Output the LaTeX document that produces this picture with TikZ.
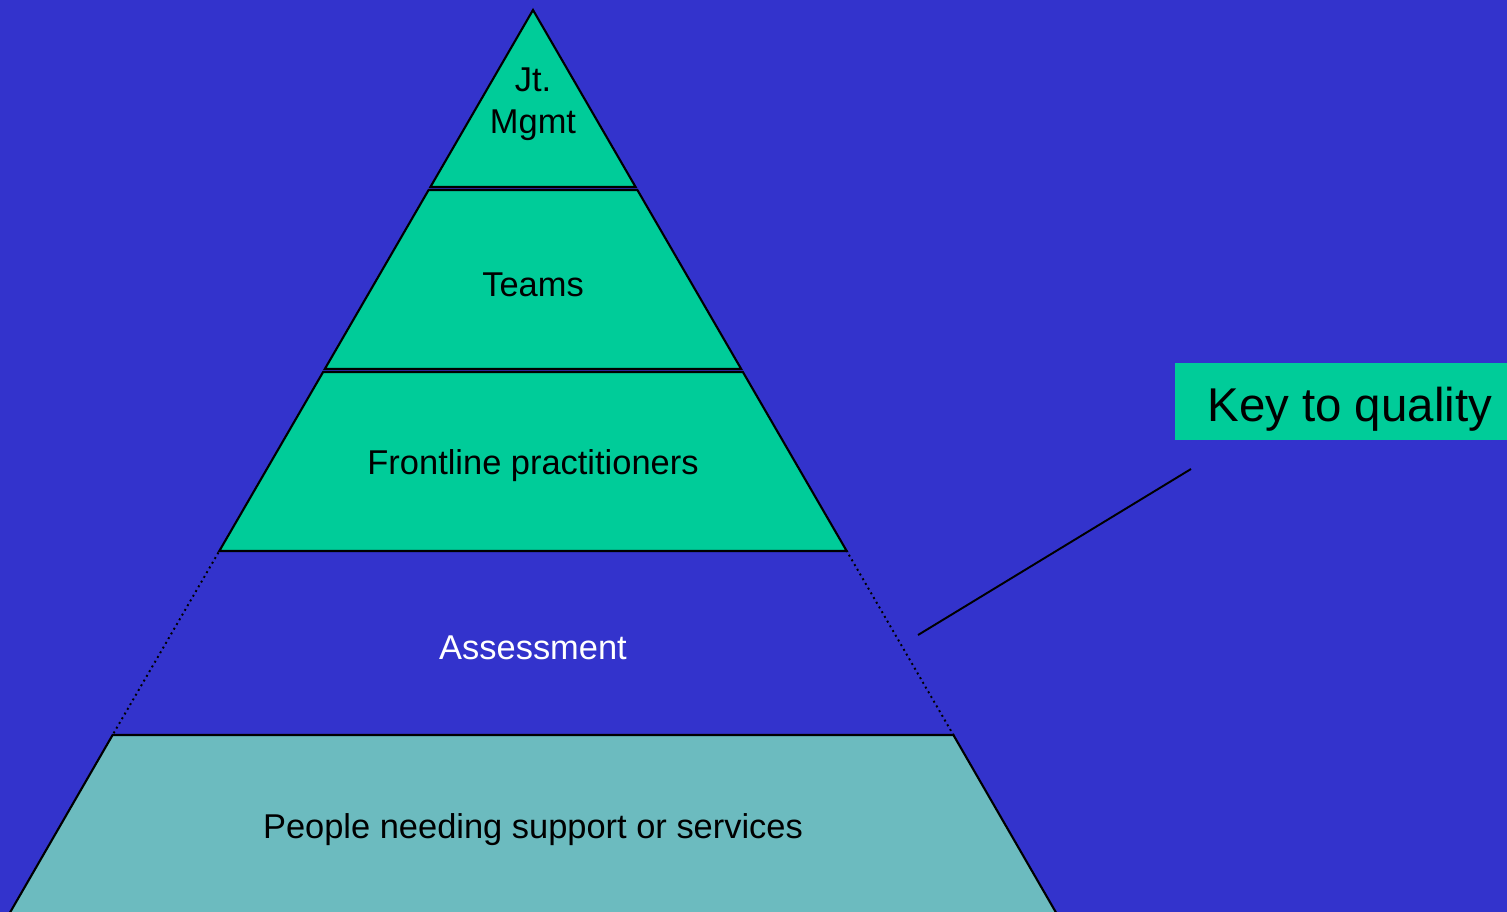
\documentclass[tikz,border=0pt]{standalone}
\usepackage{fontspec}
\setmainfont{Liberation Sans}
\definecolor{bgblue}{HTML}{3333CC}
\definecolor{layergreen}{HTML}{00CC99}
\definecolor{layerteal}{HTML}{6CBBBF}

\begin{document}
\begin{tikzpicture}[x=0.02cm, y=-0.02cm,
  layer/.style={draw=black, line width=1.2pt, line join=miter},
  lbl/.style={font=\fontsize{19.6}{24}\selectfont, align=center}]
\fill[bgblue] (0,0) rectangle (1507,912);
\useasboundingbox (0,0) rectangle (1507,912);
\clip (0,0) rectangle (1507,912);

% layers of the pyramid, top to bottom
\draw[layer, fill=layergreen] (533,10) -- (635.6,187) -- (430.4,187) -- cycle;
\draw[layer, fill=layergreen] (428.6,190) -- (637.4,190) -- (741.2,369) -- (324.8,369) -- cycle;
\draw[layer, fill=layergreen] (323.1,372) -- (742.9,372) -- (846.7,551) -- (219.3,551) -- cycle;
\draw[black, line width=1.1pt, dotted] (219.3,551) -- (846.7,551) -- (953.4,735) -- (112.6,735) -- cycle;
\draw[layer, fill=layerteal] (112.6,735) -- (953.4,735) -- (1058,916) -- (8,916) -- cycle;

\node[lbl] (mgmt) at (533,104) {Jt.\\Mgmt};
\node[lbl] (teams) at (533,285) {Teams};
\node[lbl] (front) at (533,466) {Frontline practitioners};
\node[lbl, text=white] (assess) at (533,648) {Assessment};
\node[lbl] (people) at (533,830) {People needing support or services};

% key box and its pointer
\node[fill=layergreen, anchor=west, inner xsep=32*0.02cm, inner ysep=0pt,
  text height=1.18cm, text depth=0.36cm,
  font=\fontsize{27}{32}\selectfont] (key) at (1175,401.5) {Key to quality};
\coordinate (keyend) at (1191,469);
\coordinate (pyrend) at (918,635);
\draw[black, line width=1.1pt] (keyend) -- (pyrend);
\end{tikzpicture}
\end{document}
